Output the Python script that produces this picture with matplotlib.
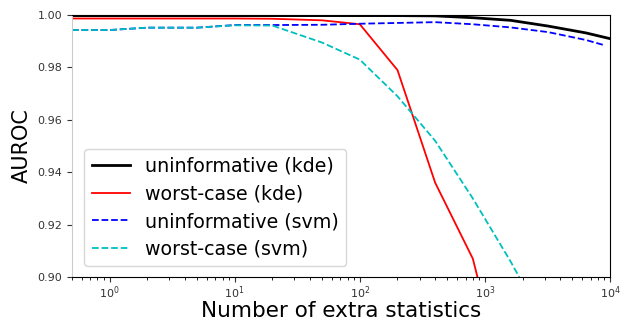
import numpy as np
import matplotlib
matplotlib.use("Agg")
import matplotlib.pyplot as plt

# data
x_kde_u = [0.5, 1, 2, 5, 10, 20, 50, 100, 200, 400, 800, 1600, 3200, 6400, 10000]
y_kde_u = [0.9998, 0.9998, 0.9998, 0.9998, 0.9998, 0.9998, 0.9998, 0.9998, 0.9998,
           0.9997, 0.9990, 0.9980, 0.9958, 0.9932, 0.9910]

x_kde_w = [0.5, 1, 2, 5, 10, 20, 50, 100, 200, 400, 800, 1600]
y_kde_w = [0.9987, 0.9987, 0.9987, 0.9987, 0.9987, 0.9986, 0.9980, 0.9965, 0.9790,
           0.9360, 0.9070, 0.8500]

x_svm_u = [0.5, 1, 2, 5, 10, 20, 50, 100, 200, 400, 800, 1600, 3200, 6400, 9000]
y_svm_u = [0.9943, 0.9943, 0.9952, 0.9952, 0.9962, 0.9962, 0.9963, 0.9967, 0.9970,
           0.9973, 0.9965, 0.9953, 0.9935, 0.9905, 0.9885]

x_svm_w = [0.5, 1, 2, 5, 10, 20, 50, 100, 200, 400, 800, 1600, 3200]
y_svm_w = [0.9943, 0.9943, 0.9952, 0.9952, 0.9961, 0.9960, 0.9895, 0.9830, 0.9690,
           0.9520, 0.9300, 0.9060, 0.8800]

fig = plt.figure(figsize=(6.2, 3.21), dpi=100)
ax = fig.add_axes([0.116, 0.137, 0.868, 0.816])

ax.plot(x_kde_u, y_kde_u, 'k-', lw=2, label='uninformative (kde)')
ax.plot(x_kde_w, y_kde_w, 'r-', lw=1.3, label='worst-case (kde)')
ax.plot(x_svm_u, y_svm_u, 'b--', lw=1.3, label='uninformative (svm)')
ax.plot(x_svm_w, y_svm_w, 'c--', lw=1.3, label='worst-case (svm)')

ax.set_xscale('log')
ax.set_xlim(0.5, 1e4)
ax.set_ylim(0.90, 1.00)
ax.set_yticks([0.90, 0.92, 0.94, 0.96, 0.98, 1.00])
ax.set_yticklabels(['0.90', '0.92', '0.94', '0.96', '0.98', '1.00'])
ax.tick_params(labelsize=8, colors='#333333')
ax.tick_params(axis='x', which='major', pad=2)
ax.spines['left'].set_color('#cccccc')

ax.set_xlabel('Number of extra statistics', fontsize=15.5, labelpad=0)
ax.set_ylabel('AUROC', fontsize=15)

ax.legend(loc='lower left', fontsize=13.7, handlelength=2.0, labelspacing=0.45,
          bbox_to_anchor=(0.005, 0.005))

fig.savefig('out.png', dpi=100)
